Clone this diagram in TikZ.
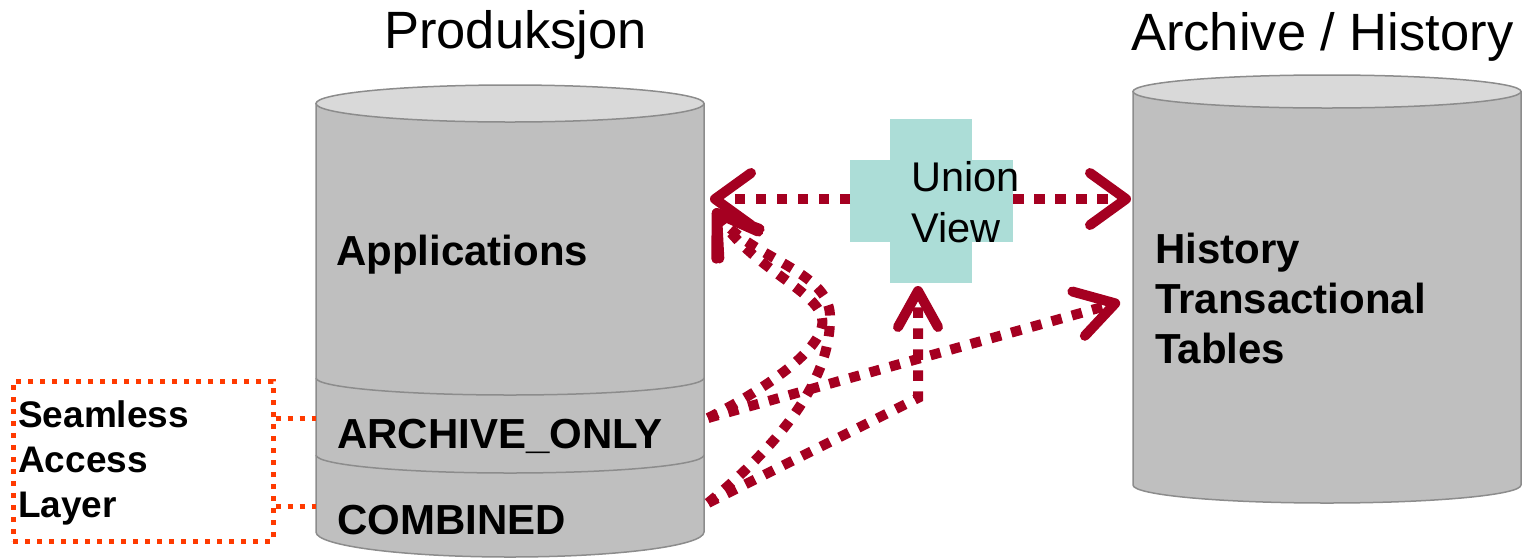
\documentclass[tikz,border=0pt]{standalone}
\usepackage{fontspec}
\setmainfont{Liberation Sans}
\usetikzlibrary{arrows.meta}
\definecolor{cylbody}{HTML}{BFBFBF}
\definecolor{cyltop}{HTML}{D9D9D9}
\definecolor{cyledge}{HTML}{8C8C8C}
\definecolor{arrred}{HTML}{A50021}
\definecolor{salorange}{HTML}{FF3A00}
\definecolor{crossfill}{HTML}{ACDDD7}
\tikzset{
  cylshape/.style={fill=cylbody, draw=cyledge, line width=1.5pt},
  cyllid/.style={fill=cyltop, draw=cyledge, line width=1.5pt},
  cylsep/.style={draw=cyledge, line width=1.5pt},
  title/.style={anchor=base west, inner sep=0pt, font=\fontsize{52.5}{60}\selectfont},
  boldlabel/.style={anchor=base west, inner sep=0pt, font=\fontsize{42}{50}\selectfont\bfseries},
  sallabel/.style={anchor=base west, inner sep=0pt, font=\fontsize{37}{45}\selectfont\bfseries},
  uvlabel/.style={anchor=base west, inner sep=0pt, font=\fontsize{41.5}{51}\selectfont},
  flow/.style={draw=arrred, line width=10pt, dash pattern=on 10.5pt off 10.5pt, line cap=butt},
  salbox/.style={draw=salorange, line width=5pt, dash pattern=on 5pt off 7pt, minimum width=260pt, minimum height=160pt, inner sep=0pt},
  salline/.style={draw=salorange, line width=5pt, dash pattern=on 5pt off 7pt},
}
\begin{document}
\begin{tikzpicture}[x=1pt, y=-1pt]
\useasboundingbox (0,0) rectangle (1523,558);
% left cylinder (Produksjon)
\path[cylshape] (316,103.5) -- (316,532) arc[start angle=180, end angle=360, x radius=194pt, y radius=25pt] -- (704,103.5) -- cycle;
\path[cyllid] (510,103.5) ellipse [x radius=194pt, y radius=18.5pt];
\draw[cylsep] (316,378) arc[start angle=180, end angle=360, x radius=194pt, y radius=17pt];
\draw[cylsep] (316,455) arc[start angle=180, end angle=360, x radius=194pt, y radius=18pt];
% right cylinder (Archive / History)
\path[cylshape] (1133,91.5) -- (1133,485) arc[start angle=180, end angle=360, x radius=194pt, y radius=18pt] -- (1521,91.5) -- cycle;
\path[cyllid] (1327,91.5) ellipse [x radius=194pt, y radius=16.5pt];
% titles
\node[title] (tprod) at (384,48) {Produksjon};
\node[title] (tarch) at (1131,50) {Archive / History};
% cylinder labels
\node[boldlabel] (apps) at (336,265) {Applications};
\node[boldlabel] (aonly) at (337,448) {ARCHIVE\_ONLY};
\node[boldlabel] (comb) at (337,534) {COMBINED};
\node[boldlabel] (hist1) at (1155,263) {History};
\node[boldlabel] (hist2) at (1155,313) {Transactional};
\node[boldlabel] (hist3) at (1155,363) {Tables};
% seamless access layer
\node[salbox] (sal) at (143,461) {};
\node[sallabel] (sal1) at (18,427) {Seamless};
\node[sallabel] (sal2) at (18,472) {Access};
\node[sallabel] (sal3) at (18,517) {Layer};
\coordinate (cyl-aonly) at (316,418);
\coordinate (cyl-comb) at (316,506);
\draw[salline] (sal.east |- cyl-aonly) -- (cyl-aonly);
\draw[salline] (sal.east |- cyl-comb) -- (cyl-comb);
% union view cross
\fill[crossfill] (890,119) rectangle (972,283);
\fill[crossfill] (850,160) rectangle (1013,242);
\coordinate (uv-w) at (850,199);
\coordinate (uv-e) at (1013,199);
\coordinate (uv-s) at (918,286);
\node[uvlabel] (uv1) at (911,191) {Union};
\node[uvlabel] (uv2) at (911,242) {View};
% connector end points
\coordinate (apps-in) at (710,199);
\coordinate (apps-in2) at (714,209);
\coordinate (hist-in) at (1131,199);
\coordinate (hist-in2) at (1120,302);
\coordinate (aonly-out) at (708,418);
\coordinate (comb-out) at (708,503);
\coordinate (bend) at (918,398);
% flows
\draw[flow, -{Straight Barb[length=36pt, width=52pt, round]}] (uv-w) -- (apps-in);
\draw[flow, -{Straight Barb[length=36pt, width=52pt, round]}] (uv-e) -- (hist-in);
\draw[flow, -{Straight Barb[length=36pt, width=40pt, round]}] (comb-out) -- (bend) -- (uv-s);
\draw[flow, -{Straight Barb[length=38pt, width=46pt, round]}] (aonly-out) -- (hist-in2);
\draw[flow, -{Straight Barb[length=38pt, width=50pt, round]}] (aonly-out) .. controls (760,392) and (828,348) .. (822,318) .. controls (816,290) and (752,268) .. (apps-in2);
\draw[flow, -{Straight Barb[length=38pt, width=50pt, round]}] (comb-out) .. controls (770,452) and (832,385) .. (830,315) .. controls (828,270) and (750,258) .. (apps-in2);
\end{tikzpicture}
\end{document}
